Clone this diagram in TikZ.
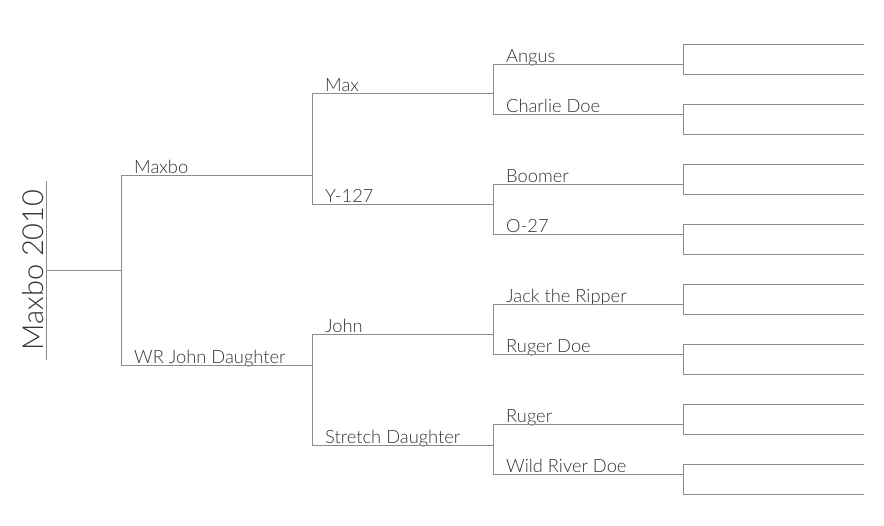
\documentclass[tikz,border=0pt]{standalone}
\usepackage{fontspec}
\setmainfont{Lato Light}
\definecolor{linegray}{HTML}{8C8C8C}
\definecolor{textgray}{HTML}{333333}
\begin{document}
\begin{tikzpicture}[x=1pt,y=-1pt,
  line/.style={draw=linegray, line width=1pt},
  horse/.style={anchor=base west, inner sep=0pt, text=textgray, font=\fontsize{18.3}{18.3}\selectfont}]
  \useasboundingbox (0,0) rectangle (884,526);
  % the foal
  \node[rotate=90, anchor=base, inner sep=0pt, text=textgray, font=\fontsize{29}{29}\selectfont] (foal) at (43,270) {Maxbo 2010};
  \coordinate (ftop) at (46,181); \coordinate (fbot) at (46,360); \coordinate (fmid) at (46,271);
  \draw[line] (ftop) -- (fbot);
  % sires and dams
  \foreach \n/\t/\x/\y in {maxbo/Maxbo/121/176, wrjohn/WR John Daughter/121/366,
      max/Max/312/94, y127/Y-127/312/205, john/John/312/335, stretch/Stretch Daughter/312/446,
      angus/Angus/493/65, charlie/Charlie Doe/493/115, boomer/Boomer/493/185, o27/O-27/493/235,
      jack/Jack the Ripper/493/305, rugerdoe/Ruger Doe/493/355, ruger/Ruger/493/425, wild/Wild River Doe/493/475} {
    \coordinate (\n) at (\x,\y);
    \node[horse] (\n-name) at (\x+13,\y-2.5) {\t};
  }
  \foreach \c/\p in {maxbo/fmid, wrjohn/fmid, max/maxbo, y127/maxbo, john/wrjohn, stretch/wrjohn,
      angus/max, charlie/max, boomer/y127, o27/y127, jack/john, rugerdoe/john, ruger/stretch, wild/stretch} {
    \draw[line] (\c) |- (\p);
  }
  % empty boxes
  \foreach \n/\b/\y in {angus/45/65, charlie/105/115, boomer/165/185, o27/225/235,
      jack/285/305, rugerdoe/345/355, ruger/405/425, wild/465/475} {
    \coordinate (\n-box) at (683,\y);
    \draw[line] (\n) -- (\n-box);
    \draw[line] (864,\b) -| (683,\b+30) -- (864,\b+30);
  }
\end{tikzpicture}
\end{document}
